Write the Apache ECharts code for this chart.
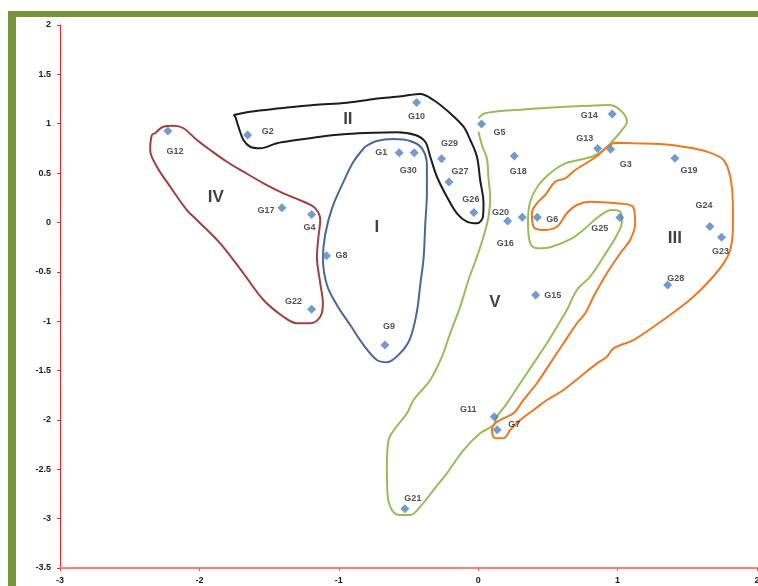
<!DOCTYPE html>
<html>
<head>
<meta charset="utf-8">
<script src="https://cdn.jsdelivr.net/npm/echarts@6/dist/echarts.min.js"></script>
<style>
html,body{margin:0;padding:0;background:#fff;}
#chart{width:758px;height:586px;}
</style>
</head>
<body>
<div id="chart"></div>
<script>
// ---- point data ----
const names = ['G1','G2','G3','G4','G5','G6','G7','G8','G9','G10','G11','G12','G13','G14','G15','G16','G17','G18','G19','G20','G21','G22','G23','G24','G25','G26','G27','G28','G29','G30'];
const xs = [-0.567,-1.654,0.95,-1.195,0.024,0.424,0.136,-1.088,-0.669,-0.442,0.115,-2.226,0.857,0.961,0.412,0.316,-1.408,0.259,1.411,0.211,-0.526,-1.195,1.746,1.662,1.016,-0.031,-0.21,1.359,-0.263,-0.459];
const ys = [0.707,0.886,0.741,0.08,0.998,0.053,-2.10,-0.336,-1.241,1.214,-1.967,0.927,0.748,1.099,-0.734,0.053,0.15,0.674,0.65,0.015,-2.90,-0.879,-0.15,-0.042,0.049,0.10,0.41,-0.633,0.646,0.707];

// ---- cluster labels ----
const clusterNames = ['I','II','III','IV','V'];
const clusterX = [-0.727,-0.935,1.411,-1.882,0.12];
const clusterY = [-0.046,1.049,-0.157,0.258,-0.806];

// ---- cluster outlines (data coordinates) ----
const outlineIV_x = [-2.317,-2.258,-2.186,-2.114,-2.018,-1.923,-1.803,-1.684,-1.540,-1.397,-1.253,-1.169,-1.133,-1.146,-1.157,-1.133,-1.114,-1.133,-1.205,-1.301,-1.397,-1.540,-1.684,-1.851,-2.018,-2.090,-2.209,-2.305,-2.353,-2.341,-2.317];
const outlineIV_y = [0.903,0.970,0.980,0.954,0.835,0.734,0.615,0.514,0.397,0.295,0.210,0.143,0.025,-0.144,-0.347,-0.616,-0.819,-0.955,-1.021,-1.021,-0.955,-0.785,-0.515,-0.211,0.025,0.126,0.362,0.565,0.734,0.886,0.903];

const outlineII_x = [-1.755,-1.636,-1.420,-1.181,-0.942,-0.703,-0.536,-0.416,-0.321,-0.201,-0.105,-0.057,-0.009,0.014,0.038,0.034,-0.009,-0.081,-0.153,-0.225,-0.296,-0.344,-0.380,-0.452,-0.583,-0.751,-0.942,-1.133,-1.301,-1.444,-1.564,-1.636,-1.684,-1.720,-1.743,-1.755];
const outlineII_y = [1.088,1.122,1.156,1.190,1.213,1.257,1.281,1.301,1.240,1.106,0.970,0.835,0.666,0.430,0.194,0.058,-0.009,0.008,0.093,0.261,0.463,0.666,0.818,0.886,0.913,0.909,0.896,0.869,0.835,0.802,0.751,0.767,0.835,0.970,1.071,1.088];

const outlineI_x = [-0.811,-0.727,-0.608,-0.488,-0.404,-0.368,-0.368,-0.380,-0.392,-0.416,-0.440,-0.488,-0.560,-0.655,-0.727,-0.823,-0.918,-1.014,-1.085,-1.114,-1.098,-1.049,-0.966,-0.895,-0.811];
const outlineI_y = [0.767,0.825,0.845,0.825,0.751,0.582,0.311,-0.026,-0.363,-0.634,-0.904,-1.173,-1.325,-1.416,-1.393,-1.241,-1.039,-0.836,-0.634,-0.363,-0.127,0.143,0.413,0.615,0.767];

const outlineV_x = [0.002,0.050,0.265,0.504,0.744,0.935,1.019,1.067,1.031,0.959,0.887,0.816,0.720,0.624,0.529,0.433,0.373,0.357,0.373,0.421,0.529,0.672,0.768,0.863,0.959,1.019,1.031,0.995,0.899,0.803,0.708,0.636,0.565,0.493,0.397,0.301,0.206,0.134,0.110,0.014,-0.105,-0.225,-0.321,-0.416,-0.488,-0.560,-0.619,-0.651,-0.655,-0.643,-0.595,-0.511,-0.464,-0.344,-0.260,-0.201,-0.129,-0.070,-0.009,0.038,0.074,0.086,0.074,0.062,0.027,0.002];
const outlineV_y = [1.055,1.106,1.139,1.162,1.179,1.190,1.139,1.020,0.936,0.818,0.717,0.666,0.633,0.599,0.514,0.379,0.210,0.008,-0.211,-0.262,-0.246,-0.161,-0.059,0.058,0.126,0.109,0.008,-0.127,-0.347,-0.549,-0.684,-0.887,-1.056,-1.224,-1.427,-1.629,-1.832,-1.968,-2.052,-2.136,-2.305,-2.541,-2.710,-2.879,-2.963,-2.963,-2.912,-2.743,-2.474,-2.203,-2.085,-1.933,-1.798,-1.596,-1.360,-1.123,-0.853,-0.583,-0.347,-0.144,0.058,0.245,0.447,0.650,0.784,0.919,1.055];

const outlineIII_x = [0.971,1.114,1.306,1.473,1.641,1.760,1.808,1.827,1.827,1.808,1.760,1.664,1.544,1.425,1.258,1.114,0.971,0.923,0.852,0.732,0.612,0.493,0.397,0.301,0.230,0.181,0.122,0.098,0.122,0.181,0.253,0.325,0.421,0.516,0.612,0.708,0.768,0.827,0.923,1.019,1.090,1.126,1.110,0.995,0.803,0.708,0.636,0.565,0.468,0.397,0.385,0.421,0.481,0.552,0.624,0.696,0.791,0.863,0.911,0.959,0.971];
const outlineIII_y = [0.808,0.802,0.795,0.767,0.717,0.633,0.463,0.194,-0.076,-0.279,-0.414,-0.583,-0.752,-0.887,-1.056,-1.191,-1.275,-1.360,-1.427,-1.562,-1.697,-1.798,-1.899,-2.001,-2.102,-2.186,-2.186,-2.102,-2.034,-1.984,-1.933,-1.798,-1.629,-1.427,-1.224,-1.021,-0.920,-0.752,-0.515,-0.312,-0.178,-0.009,0.160,0.194,0.210,0.177,0.093,-0.043,-0.076,-0.043,0.093,0.194,0.278,0.413,0.447,0.531,0.615,0.683,0.751,0.792,0.808];

// ---- axis ticks ----
const xTicks = {min: -3, max: 2, interval: 1};
const yTicks = {min: -3.5, max: 2, interval: 0.5};

// label placement (pixel offsets from each point)
const labelOffset = {
  G1:[-18,0],G2:[20,-3],G3:[15,15],G4:[-2,13],G5:[18,9],G6:[15,2],G7:[17,-5],G8:[15,0],G9:[4,-18],G10:[0,14],
  G11:[-26,-7],G12:[7,21],G13:[-13,-10],G14:[-23,2],G15:[17,1],G16:[-17,26],G17:[-16,3],G18:[4,16],G19:[14,12],G20:[-7,-8],
  G21:[8,-10],G22:[-18,-8],G23:[-1,14],G24:[-6,-21],G25:[-20,11],G26:[-3,-13],G27:[11,-10],G28:[8,-6],G29:[8,-15],G30:[-6,18]
};

function zip(a, b) { return a.map((v, i) => [v, b[i]]); }

function outline(xa, ya, color) {
  return {
    type: 'line',
    data: zip(xa, ya),
    smooth: 0.35,
    symbol: 'none',
    silent: true,
    lineStyle: {color: color, width: 2},
    z: 2
  };
}

const FONT = '"Liberation Sans", Arial, sans-serif';

const chart = echarts.init(document.getElementById('chart'), null, {renderer: 'canvas'});
chart.setOption({
  animation: false,
  backgroundColor: '#ffffff',
  graphic: [
    {type: 'rect', left: 8, top: 11, shape: {width: 8, height: 580}, style: {fill: '#77933C'}, z: 100},
    {type: 'rect', left: 8, top: 11, shape: {width: 760, height: 6}, style: {fill: '#77933C'}, z: 100}
  ],
  grid: {left: 60, top: 25, width: 697, height: 543, containLabel: false, outerBoundsMode: 'none'},
  xAxis: {
    type: 'value', min: xTicks.min, max: xTicks.max, interval: xTicks.interval,
    axisLine: {show: true, onZero: false, lineStyle: {color: '#FF7F7F', width: 2}},
    axisTick: {show: true, length: 3, lineStyle: {color: '#FF5050'}},
    splitLine: {show: false},
    axisLabel: {color: '#1a1a1a', fontFamily: FONT, fontWeight: 'bold', fontSize: 9, margin: 8}
  },
  yAxis: {
    type: 'value', min: yTicks.min, max: yTicks.max, interval: yTicks.interval,
    axisLine: {show: true, onZero: false, lineStyle: {color: '#FF2020', width: 1}},
    axisTick: {show: true, length: 3, lineStyle: {color: '#FF2020'}},
    splitLine: {show: false},
    axisLabel: {color: '#1a1a1a', fontFamily: FONT, fontWeight: 'bold', fontSize: 9, margin: 9}
  },
  series: [
    outline(outlineIV_x, outlineIV_y, '#A0403E'),
    outline(outlineII_x, outlineII_y, '#1c1c1c'),
    outline(outlineI_x, outlineI_y, '#46699A'),
    outline(outlineV_x, outlineV_y, '#9BBB59'),
    outline(outlineIII_x, outlineIII_y, '#EE7722'),
    {
      type: 'scatter',
      symbol: 'diamond',
      symbolSize: 9,
      itemStyle: {color: '#4F81BD'},
      z: 5,
      data: names.map((n, i) => ({
        name: n,
        value: [xs[i], ys[i]],
        label: {
          show: true, position: 'inside', offset: labelOffset[n],
          formatter: n, color: '#262626', fontFamily: FONT, fontWeight: 'bold', fontSize: 9
        }
      }))
    },
    {
      type: 'scatter',
      symbolSize: 0,
      z: 6,
      data: clusterNames.map((n, i) => ({name: n, value: [clusterX[i], clusterY[i]]})),
      label: {
        show: true, position: 'inside', formatter: p => p.name,
        color: '#111', fontFamily: FONT, fontWeight: 'bold', fontSize: 17
      }
    }
  ]
});
</script>
</body>
</html>
